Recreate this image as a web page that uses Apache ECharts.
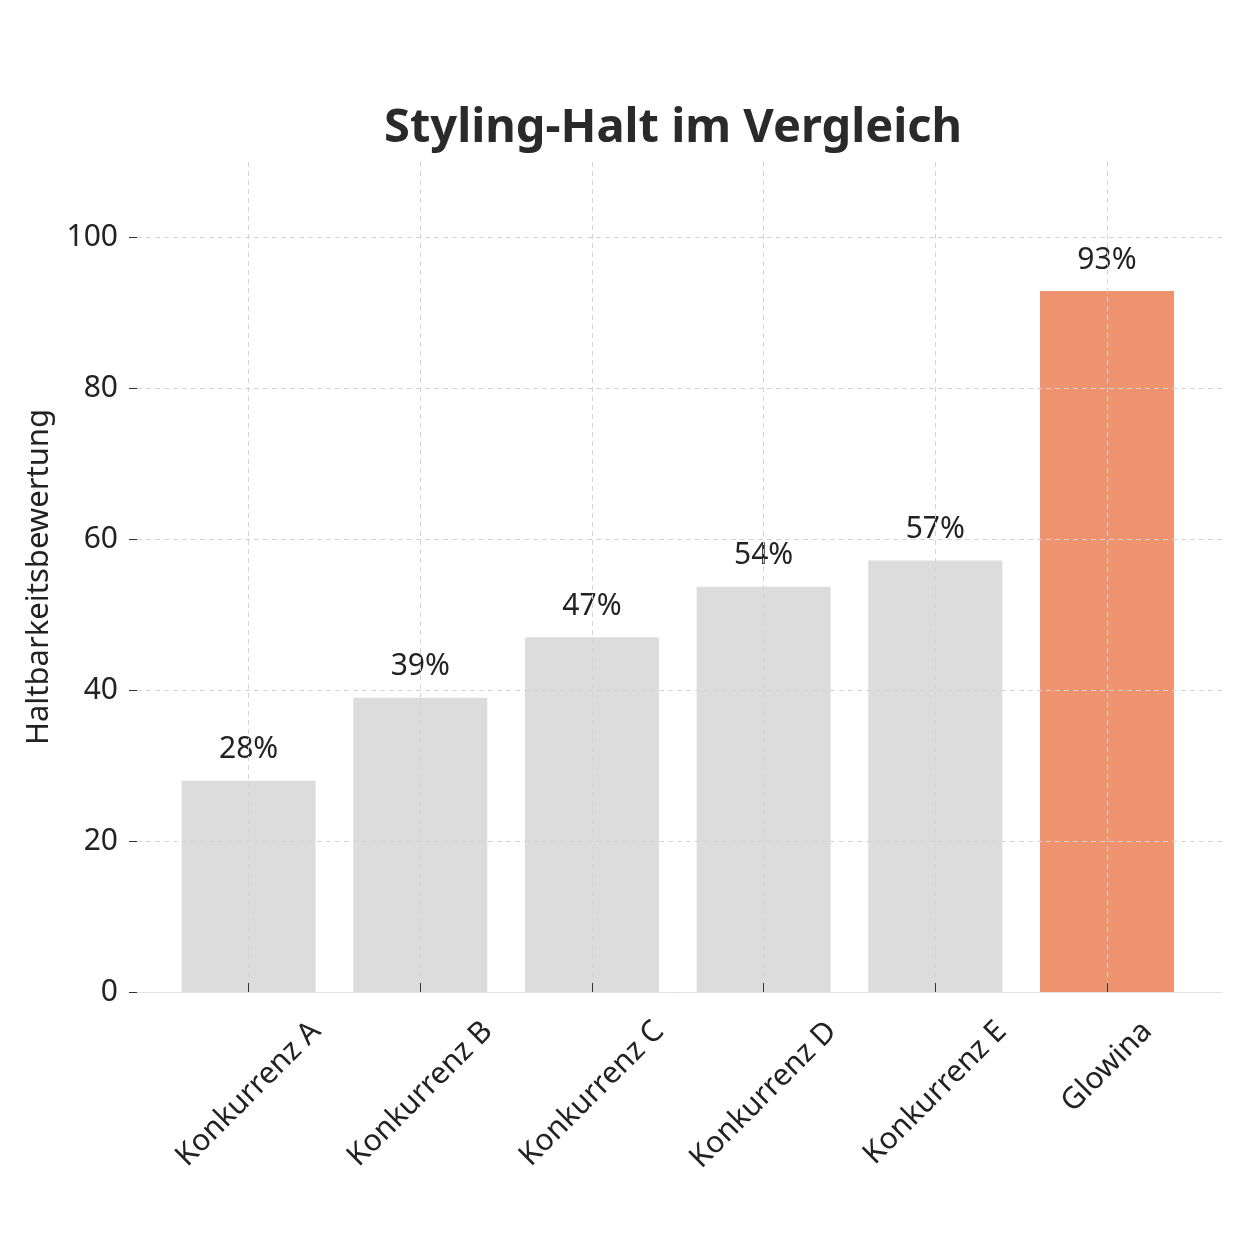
<!DOCTYPE html>
<html>
<head>
<meta charset="utf-8">
<script src="https://cdn.jsdelivr.net/npm/echarts@6/dist/echarts.min.js"></script>
<style>
  html, body { margin: 0; padding: 0; background: #fff; }
  #chart { width: 1254px; height: 1254px; }
</style>
</head>
<body>
<div id="chart"></div>
<script>
var categories = ['Konkurrenz A', 'Konkurrenz B', 'Konkurrenz C', 'Konkurrenz D', 'Konkurrenz E', 'Glowina'];
var scores = [28, 39, 47, 53.7, 57.2, 92.9];
var yTicks = [0, 20, 40, 60, 80, 100];
var highlight = 'Glowina';

var fs = 30;
var ctx = document.createElement('canvas').getContext('2d');
ctx.font = fs + "px 'Noto Sans'";
var widths = categories.map(function (c) { return ctx.measureText(c).width; });
var minW = Math.min.apply(null, widths);

// rotated labels: keep the top of each label box on one line (pad top + right)
var rich = {};
categories.forEach(function (c, i) {
    var p = (widths[i] - minW) / 2;
    rich['c' + i] = { fontSize: fs, fontFamily: 'Noto Sans', color: '#222', padding: [p, p, 0, 0] };
});
var catMargin = 24 + (minW + fs) / (2 * Math.SQRT2);

var xTicks = categories.map(function (c, i) { return i; });
var barData = scores.map(function (v, i) {
    return {
        value: [i, v],
        itemStyle: { color: categories[i] === highlight ? '#ef936f' : '#dcdcdc' }
    };
});

var gridLine = { show: true, lineStyle: { color: '#d4d4d4', type: [5, 4], width: 1 } };

var chart = echarts.init(document.getElementById('chart'));
var option = {
    backgroundColor: '#fff',
    animation: false,
    textStyle: { fontFamily: 'Noto Sans' },
    title: {
        text: 'Styling-Halt im Vergleich',
        left: 379,
        top: 100,
        textStyle: { fontSize: 47, fontWeight: 'bold', color: '#2a2a2a', fontFamily: 'Noto Sans' }
    },
    grid: { left: 137, right: 32, top: 162, bottom: 262, containLabel: false, outerBoundsMode: 'none' },
    xAxis: {
        type: 'value',
        min: -0.65,
        max: 5.67,
        z: 3,
        axisLine: { show: true, onZero: false, lineStyle: { color: '#e2e2e2', width: 1 } },
        axisTick: { show: true, inside: true, length: 9, customValues: xTicks, lineStyle: { color: '#333' } },
        axisLabel: {
            customValues: xTicks,
            rotate: 45,
            align: 'center',
            verticalAlign: 'middle',
            margin: catMargin,
            formatter: function (v) {
                var i = Math.round(v);
                return '{c' + i + '|' + categories[i] + '}';
            },
            rich: rich
        },
        splitLine: gridLine
    },
    yAxis: {
        type: 'value',
        min: 0,
        max: 110,
        interval: 20,
        z: 3,
        name: 'Haltbarkeitsbewertung',
        nameLocation: 'middle',
        nameGap: 82,
        nameTextStyle: { fontSize: 31, color: '#222', fontFamily: 'Noto Sans' },
        axisLine: { show: false, onZero: false },
        axisTick: { show: true, length: 8, customValues: yTicks, lineStyle: { color: '#333' } },
        axisLabel: { customValues: yTicks, fontSize: fs, color: '#222', margin: 19 },
        splitLine: gridLine
    },
    series: [{
        type: 'bar',
        barWidth: 134,
        data: barData,
        label: {
            show: true,
            position: 'top',
            distance: 16,
            fontSize: 30,
            color: '#222',
            formatter: function (p) { return Math.round(p.value[1]) + '%'; }
        }
    }]
};
chart.setOption(option);
</script>
</body>
</html>
